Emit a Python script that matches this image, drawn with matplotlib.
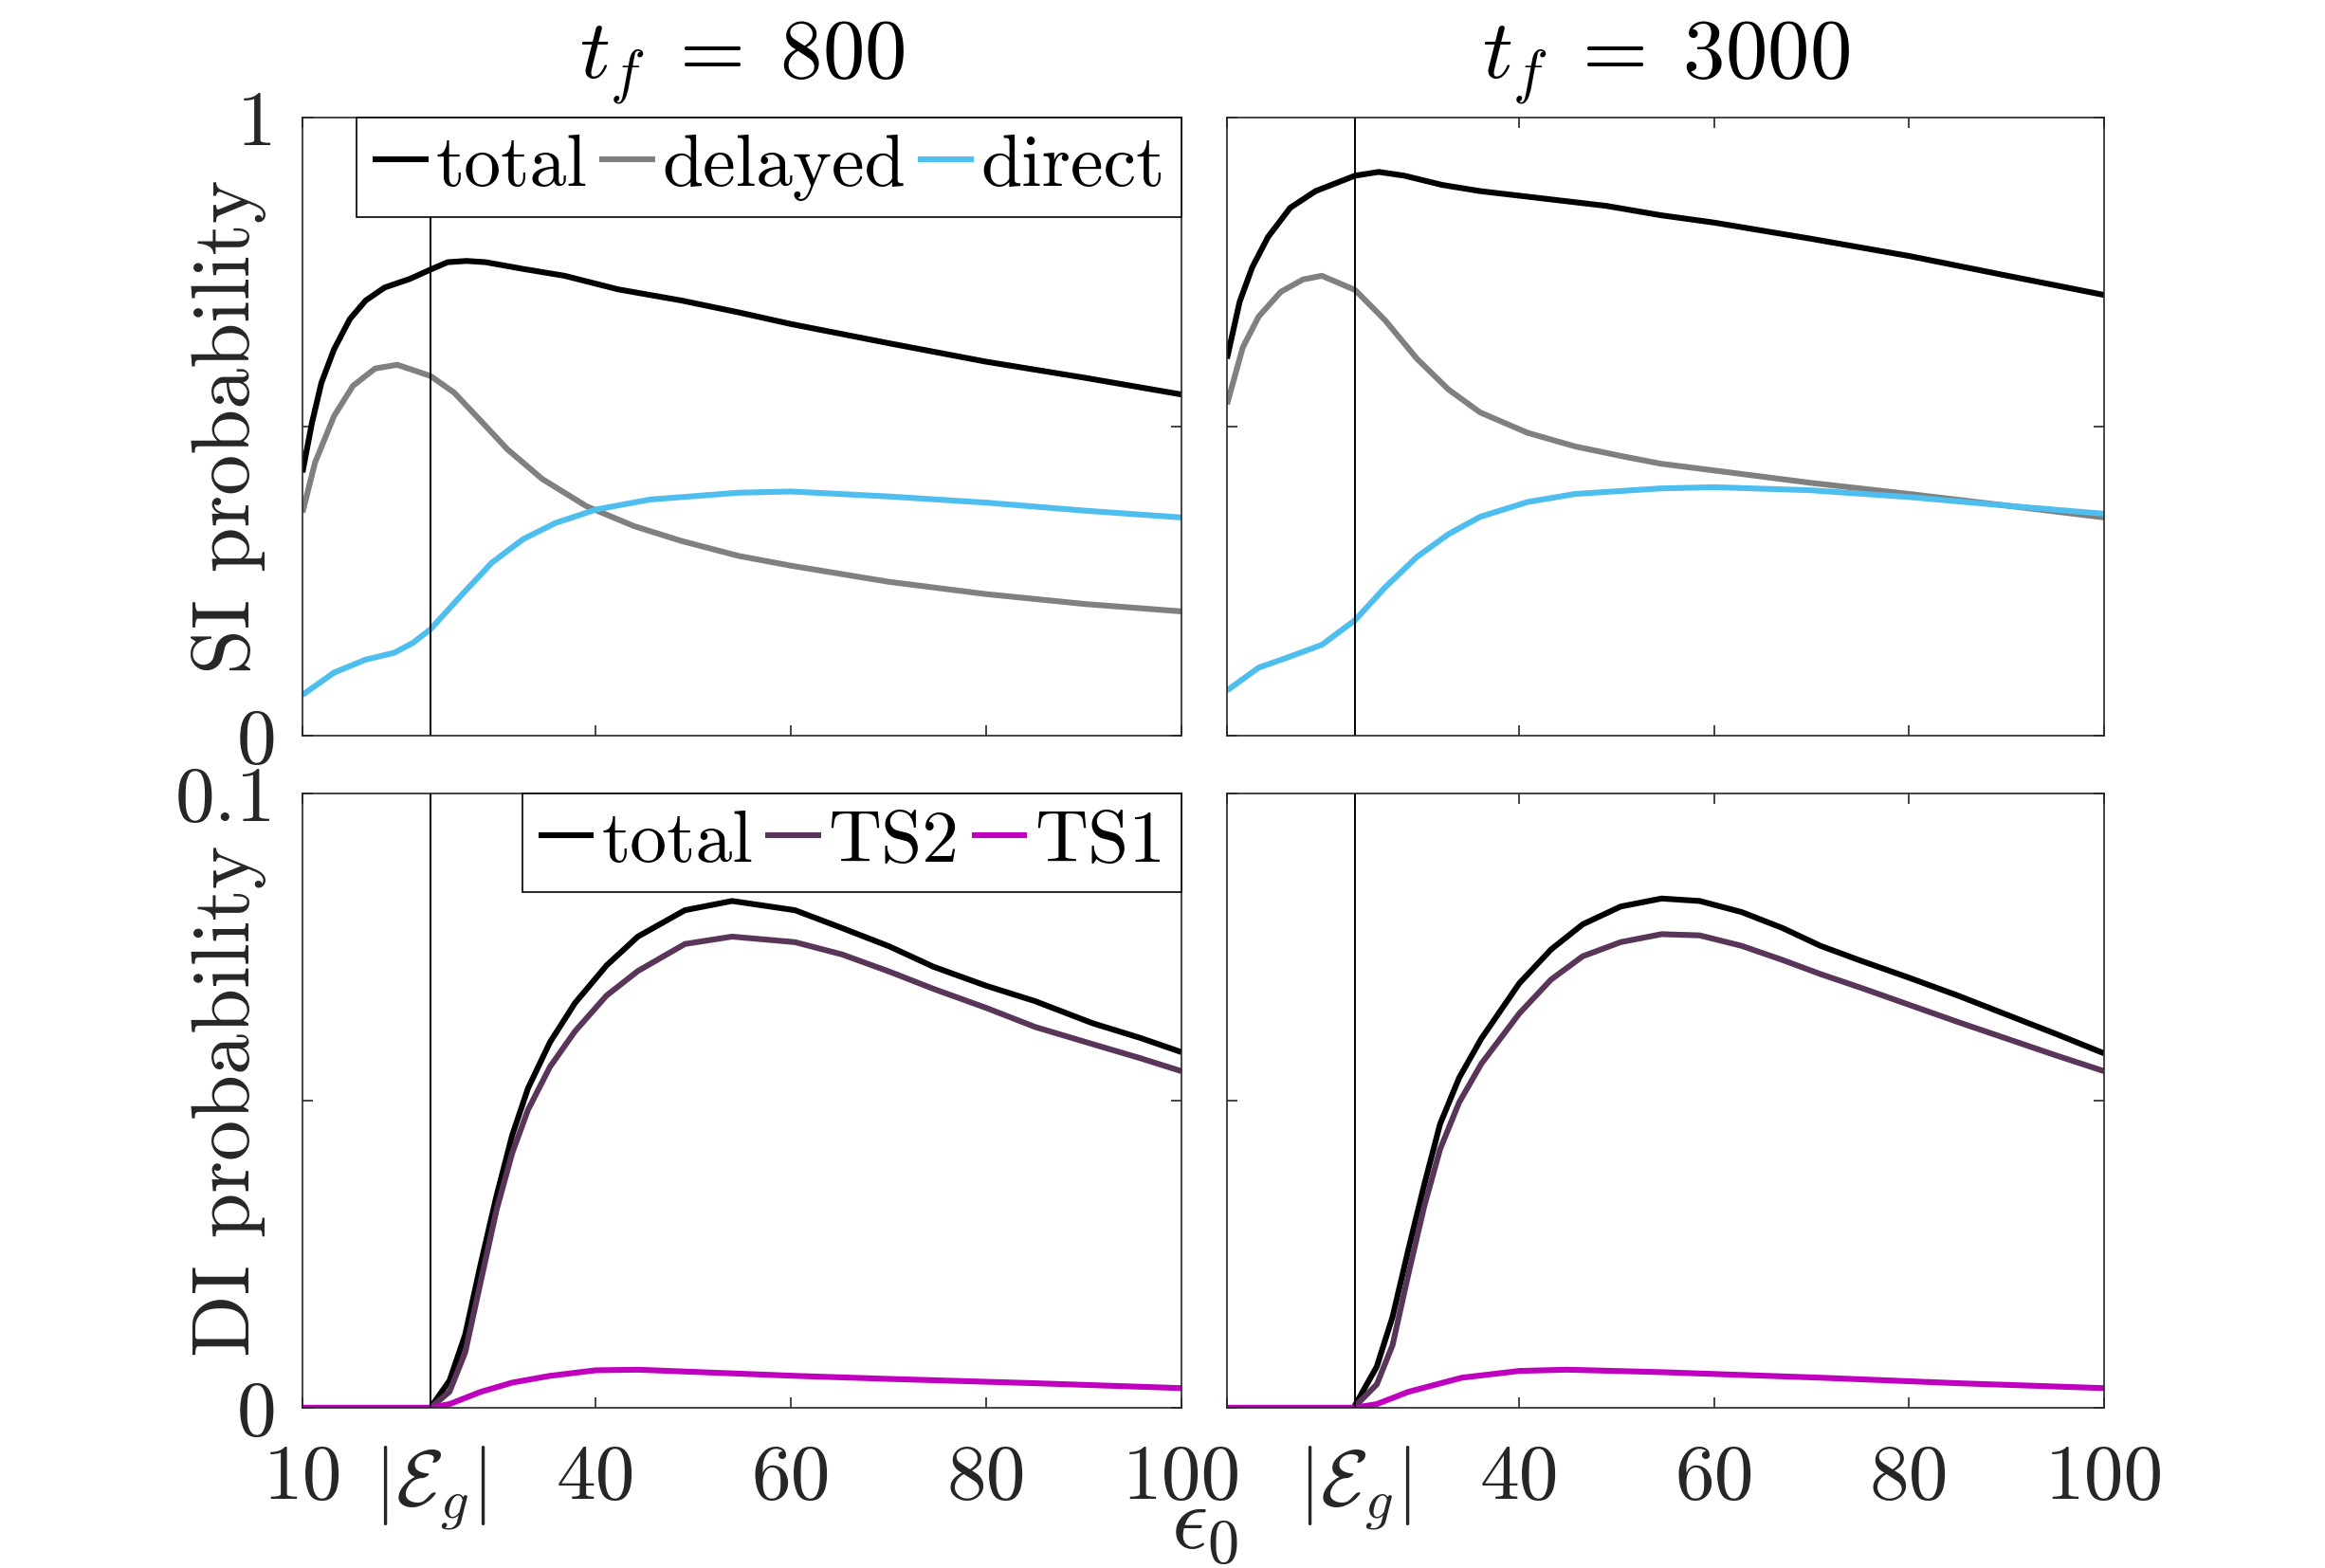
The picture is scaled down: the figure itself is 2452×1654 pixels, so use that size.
import matplotlib
matplotlib.use("Agg")
import matplotlib.pyplot as plt

plt.rcParams["font.family"] = "serif"
plt.rcParams["font.serif"] = ["cmr10"]
plt.rcParams["mathtext.fontset"] = "cm"
plt.rcParams["axes.unicode_minus"] = False
plt.rcParams["axes.formatter.use_mathtext"] = True

EG = 23.1  # |E_g|
titles = ["$t_f\\;=\\;800$", "$t_f\\;=\\;3000$"]

# ---- SI probability, t_f = 800
si800_tot_x = [10, 10.97, 11.94, 13.23, 14.85, 16.47, 18.41, 21.0, 23.1, 24.87, 26.81, 28.75, 32.63, 36.83,
               42.33, 48.8, 54.6, 60, 70, 80, 90.1, 100]
si800_tot_y = [0.426, 0.506, 0.571, 0.625, 0.674, 0.704, 0.725, 0.739, 0.754, 0.766, 0.768, 0.766, 0.755, 0.744,
               0.722, 0.704, 0.685, 0.666, 0.635, 0.605, 0.579, 0.552]
si800_del_x = [10, 11.29, 13.23, 15.17, 17.44, 19.71, 23.1, 25.53, 28.1, 31.0, 34.57, 39.1, 43.95, 48.8, 54.6,
               60, 70, 80, 90.1, 100]
si800_del_y = [0.361, 0.442, 0.517, 0.566, 0.594, 0.600, 0.582, 0.555, 0.512, 0.463, 0.415, 0.371, 0.339, 0.315,
               0.291, 0.275, 0.249, 0.229, 0.213, 0.201]
si800_dir_x = [10, 13.23, 16.47, 19.38, 21.3, 23.1, 26.2, 29.4, 32.6, 35.9, 40.1, 45.6, 54.6, 60, 70, 80, 90.1, 100]
si800_dir_y = [0.066, 0.102, 0.123, 0.134, 0.150, 0.172, 0.226, 0.280, 0.318, 0.344, 0.366, 0.382, 0.393,
               0.395, 0.387, 0.377, 0.364, 0.353]

# ---- SI probability, t_f = 3000
si3000_tot_x = [10, 11.3, 12.6, 14.22, 16.49, 19.09, 23.15, 25.58, 28.18, 32.08, 35.97, 42.47, 48.96, 54.5,
                60, 69.9, 80, 90.1, 100]
si3000_tot_y = [0.610, 0.702, 0.758, 0.807, 0.854, 0.881, 0.906, 0.912, 0.906, 0.891, 0.881, 0.869, 0.857, 0.842,
                0.830, 0.804, 0.776, 0.744, 0.713]
si3000_del_x = [10, 11.62, 13.25, 15.52, 17.79, 19.74, 23.15, 26.23, 29.48, 32.73, 35.97, 40.84, 45.71, 50.58,
                54.5, 60, 69.9, 80, 90.1, 100]
si3000_del_y = [0.536, 0.628, 0.678, 0.718, 0.738, 0.744, 0.721, 0.672, 0.610, 0.560, 0.523, 0.490, 0.468, 0.452,
                0.440, 0.429, 0.409, 0.391, 0.372, 0.353]
si3000_dir_x = [10, 13.25, 16.49, 19.74, 23.15, 26.23, 29.48, 32.73, 35.97, 40.84, 45.71, 54.5, 60, 69.9, 80,
                90.1, 100]
si3000_dir_y = [0.073, 0.110, 0.128, 0.147, 0.187, 0.240, 0.289, 0.326, 0.354, 0.378, 0.391, 0.400, 0.402, 0.397,
                0.386, 0.372, 0.359]

# ---- DI probability, t_f = 800
di800_x = [10, 23.1, 25.05, 26.66, 28.26, 29.87, 31.48, 33.09, 35.34, 37.91, 41.13, 44.34, 49.16, 53.99, 60.42,
           65.24, 70.1, 74.6, 80, 85, 90.9, 95.8, 100]
di800_tot = [0, 0, 0.0044, 0.0119, 0.0235, 0.0345, 0.0444, 0.0520, 0.0595, 0.0659, 0.0720, 0.0767, 0.0810,
             0.0825, 0.0810, 0.0781, 0.0751, 0.0718, 0.0687, 0.0662, 0.0626, 0.0602, 0.0579]
di800_ts2 = [0, 0, 0.0026, 0.0090, 0.0206, 0.0322, 0.0415, 0.0485, 0.0555, 0.0613, 0.0671, 0.0711, 0.0755,
             0.0767, 0.0758, 0.0738, 0.0710, 0.0682, 0.0651, 0.0620, 0.0592, 0.0569, 0.0548]
di800_ts1_x = [10, 23.1, 25.05, 28.26, 31.48, 35.34, 40.0, 44.34, 50.8, 60.42, 70.1, 85, 100]
di800_ts1 = [0, 0, 0.0006, 0.0026, 0.0041, 0.0052, 0.0061, 0.0062, 0.0058, 0.0052, 0.0047, 0.0040, 0.0032]

# ---- DI probability, t_f = 3000
di3000_x = [10, 23.0, 25.37, 26.99, 28.62, 30.24, 31.87, 33.82, 36.1, 40.0, 43.25, 46.5, 50.4, 54.6, 58.5,
            62.8, 67.0, 70.9, 75, 80, 85, 90, 95, 100]
di3000_tot = [0, 0, 0.0067, 0.0148, 0.0258, 0.0363, 0.0462, 0.0537, 0.0601, 0.0691, 0.0746, 0.0787, 0.0816,
              0.0829, 0.0825, 0.0807, 0.0781, 0.0752, 0.0728, 0.0700, 0.0671, 0.0640, 0.0609, 0.0577]
di3000_ts2 = [0, 0, 0.0038, 0.0102, 0.0218, 0.0328, 0.0421, 0.0497, 0.0560, 0.0642, 0.0697, 0.0735, 0.0758,
              0.0771, 0.0769, 0.0752, 0.0729, 0.0706, 0.0684, 0.0656, 0.0628, 0.0601, 0.0574, 0.0548]
di3000_ts1_x = [10, 23.0, 25.37, 28.62, 34.1, 40.0, 44.9, 54.6, 70.9, 85, 100]
di3000_ts1 = [0, 0, 0.0006, 0.0026, 0.0049, 0.0060, 0.0062, 0.0058, 0.0049, 0.0040, 0.0032]

C_TOT = "black"
C_DEL = (0.5, 0.5, 0.5)
C_DIR = (0.30, 0.745, 0.933)
C_TS2 = (0.35, 0.21, 0.35)
C_TS1 = (0.75, 0.0, 0.75)
TXT = "#262626"
FS = 30
LW = 2.2

fig = plt.figure(figsize=(12.26, 8.27), dpi=200)
W, H = 2452, 1654
def pos(x0, x1, y0, y1):
    return [x0 / W, 1 - y1 / H, (x1 - x0) / W, (y1 - y0) / H]

axs = [[fig.add_axes(pos(319, 1246, 124, 776)), fig.add_axes(pos(1294, 2219, 124, 776))],
       [fig.add_axes(pos(319, 1246, 837, 1485)), fig.add_axes(pos(1294, 2219, 837, 1485))]]

si = [(si800_tot_x, si800_tot_y, si800_del_x, si800_del_y, si800_dir_x, si800_dir_y),
      (si3000_tot_x, si3000_tot_y, si3000_del_x, si3000_del_y, si3000_dir_x, si3000_dir_y)]
di = [(di800_x, di800_tot, di800_ts2, di800_ts1_x, di800_ts1),
      (di3000_x, di3000_tot, di3000_ts2, di3000_ts1_x, di3000_ts1)]

kw = dict(lw=LW, solid_joinstyle="round", solid_capstyle="butt")
for j in range(2):
    ax = axs[0][j]
    tx, ty, dx, dy, rx, ry = si[j]
    ax.plot(tx, ty, color=C_TOT, label="total", **kw)
    ax.plot(dx, dy, color=C_DEL, label="delayed", **kw)
    ax.plot(rx, ry, color=C_DIR, label="direct", **kw)
    ax.set_ylim(0, 1)
    ax.set_yticks([0, 0.5, 1])
    ax.set_yticklabels(["0", "", "1"] if j == 0 else ["", "", ""])
    ax.text(0.5, 1.088, titles[j], transform=ax.transAxes, ha="center", va="center",
            fontsize=FS + 2, color="black")

    ax = axs[1][j]
    x, tot, ts2, x1, ts1 = di[j]
    ax.plot(x, tot, color=C_TOT, label="total", **kw)
    ax.plot(x, ts2, color=C_TS2, label="TS2", **kw)
    ax.plot(x1, ts1, color=C_TS1, label="TS1", **kw)
    ax.set_ylim(0, 0.1)
    ax.set_yticks([0, 0.05, 0.1])
    ax.set_yticklabels(["0", "", "0.1"] if j == 0 else ["", "", ""])

for i in range(2):
    for j in range(2):
        ax = axs[i][j]
        ax.axvline(EG, color="black", lw=0.7)
        ax.set_xlim(10, 100)
        ax.set_xticks([10, EG, 40, 60, 80, 100])
        if i == 1:
            labs = ["10", "$|\\mathcal{E}_g|$", "40", "60", "80", "100"]
            if j == 1:
                labs[0] = ""
            ax.set_xticklabels(labs)
        else:
            ax.set_xticklabels([])
        ax.tick_params(direction="in", top=True, right=True, length=4, width=0.6,
                       labelsize=FS, colors=TXT, pad=10)
        ax.tick_params(axis="x", pad=14)
        for s in ax.spines.values():
            s.set_linewidth(0.6)
            s.set_color((0.15, 0.15, 0.15))
        if j == 0:
            leg = ax.legend(loc="upper right", ncol=3, fontsize=28, frameon=True, fancybox=False,
                            borderaxespad=0, handlelength=0.75, handletextpad=0.1,
                            columnspacing=0.17, borderpad=0.22)
            leg.get_frame().set_edgecolor("black")
            leg.get_frame().set_linewidth(0.6)
            leg.get_frame().set_alpha(1)

axs[0][0].set_ylabel("SI probability", fontsize=31, color=TXT)
axs[1][0].set_ylabel("DI probability", fontsize=31, color=TXT)
for ax in (axs[0][0], axs[1][0]):
    ax.yaxis.set_label_coords(-0.041, 0.5)

fig.text(1270 / W, 1 - 1611 / H, "$\\epsilon_0$", ha="center", va="center", fontsize=FS + 4, color=TXT)

fig.savefig("out.png", dpi=200, facecolor="white")
